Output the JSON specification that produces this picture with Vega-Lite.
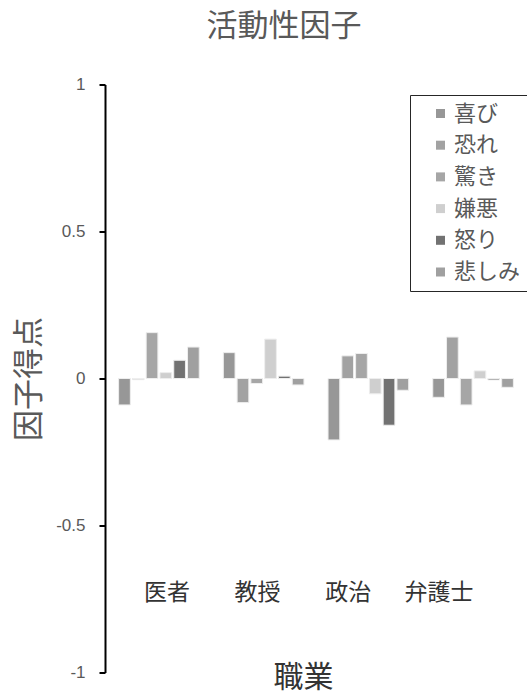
{
  "$schema": "https://vega.github.io/schema/vega-lite/v6.json",
  "width": 422,
  "height": 588,
  "autosize": {"type": "none"},
  "padding": {"left": 105, "top": 84.5, "right": 0, "bottom": 22.5},
  "background": "white",
  "config": {"view": {"stroke": null}, "font": "Noto Sans CJK JP"},
  "title": {"text": "活動性因子", "fontSize": 31, "fontWeight": "normal", "color": "#595959", "anchor": "middle", "dx": -32, "offset": 33, "font": "Noto Sans CJK JP"},
  "layer": [
    {
      "data": {"values": [
        {"職業": "医者", "感情": "喜び", "得点": -0.090},
        {"職業": "医者", "感情": "恐れ", "得点": -0.004},
        {"職業": "医者", "感情": "驚き", "得点": 0.156},
        {"職業": "医者", "感情": "嫌悪", "得点": 0.020},
        {"職業": "医者", "感情": "怒り", "得点": 0.062},
        {"職業": "医者", "感情": "悲しみ", "得点": 0.107},
        {"職業": "教授", "感情": "喜び", "得点": 0.088},
        {"職業": "教授", "感情": "恐れ", "得点": -0.082},
        {"職業": "教授", "感情": "驚き", "得点": -0.017},
        {"職業": "教授", "感情": "嫌悪", "得点": 0.134},
        {"職業": "教授", "感情": "怒り", "得点": 0.008},
        {"職業": "教授", "感情": "悲しみ", "得点": -0.022},
        {"職業": "政治", "感情": "喜び", "得点": -0.209},
        {"職業": "政治", "感情": "恐れ", "得点": 0.077},
        {"職業": "政治", "感情": "驚き", "得点": 0.085},
        {"職業": "政治", "感情": "嫌悪", "得点": -0.052},
        {"職業": "政治", "感情": "怒り", "得点": -0.159},
        {"職業": "政治", "感情": "悲しみ", "得点": -0.040},
        {"職業": "弁護士", "感情": "喜び", "得点": -0.064},
        {"職業": "弁護士", "感情": "恐れ", "得点": 0.141},
        {"職業": "弁護士", "感情": "驚き", "得点": -0.090},
        {"職業": "弁護士", "感情": "嫌悪", "得点": 0.026},
        {"職業": "弁護士", "感情": "怒り", "得点": -0.005},
        {"職業": "弁護士", "感情": "悲しみ", "得点": -0.030}
      ]},
      "mark": {"type": "bar", "stroke": "#eeeeee", "strokeWidth": 1},
      "encoding": {
        "x": {"field": "職業", "type": "nominal", "sort": ["医者", "教授", "政治", "弁護士"], "scale": {"paddingInner": 0.23, "paddingOuter": 0.13}, "axis": null},
        "xOffset": {"field": "感情", "type": "nominal", "sort": ["喜び", "恐れ", "驚き", "嫌悪", "怒り", "悲しみ"], "scale": {"paddingInner": 0.15, "paddingOuter": 0}},
        "y": {
          "field": "得点", "type": "quantitative",
          "scale": {"domain": [-1, 1], "nice": false, "zero": false},
          "axis": {
            "values": [-1, -0.5, 0, 0.5, 1],
            "labelExpr": "'' + datum.value",
            "grid": false,
            "domainColor": "#000000", "domainWidth": 2,
            "tickColor": "#000000", "tickWidth": 2, "tickSize": 6,
            "labelPadding": 14, "labelColor": "#595959", "labelFontSize": 17, "labelFont": "Liberation Sans",
            "title": "因子得点", "titleFontSize": 31, "titleFontWeight": "normal", "titleColor": "#595959", "titleFont": "Noto Sans CJK JP",
            "titleX": -76, "titleY": 294, "titleBaseline": "middle", "titleAlign": "center", "titleAngle": 270
          }
        },
        "color": {
          "field": "感情", "type": "nominal",
          "sort": ["喜び", "恐れ", "驚き", "嫌悪", "怒り", "悲しみ"],
          "scale": {"domain": ["喜び", "恐れ", "驚き", "嫌悪", "怒り", "悲しみ"], "range": ["#979797", "#a2a2a2", "#a6a6a6", "#cfcfcf", "#727272", "#a0a0a0"]},
          "legend": {
            "orient": "none", "legendX": 305, "legendY": 10.5, "title": null,
            "strokeColor": "#262626", "fillColor": "white", "padding": 7.5,
            "symbolType": "square", "symbolSize": 81, "symbolStrokeWidth": 0, "symbolOffset": 12,
            "labelOffset": 2.5, "labelFontSize": 22, "labelColor": "#595959", "labelFont": "Noto Sans CJK JP",
            "rowPadding": 9.7
          }
        }
      }
    },
    {
      "data": {"values": [{"職業": "医者"}, {"職業": "教授"}, {"職業": "政治"}, {"職業": "弁護士"}]},
      "mark": {"type": "text", "fontSize": 23, "color": "#333333", "font": "Noto Sans CJK JP", "baseline": "middle"},
      "encoding": {
        "x": {
          "field": "職業", "type": "nominal", "sort": ["医者", "教授", "政治", "弁護士"],
          "scale": {"type": "point", "padding": 0.826, "align": 0.413},
          "axis": {"labels": false, "ticks": false, "domain": false, "grid": false,
                   "title": "職業", "titleFontSize": 30, "titleFontWeight": "normal", "titleColor": "#333333", "titleFont": "Noto Sans CJK JP",
                   "titleX": 198, "titleY": 4.5, "titleBaseline": "middle", "titleAlign": "center"}
        },
        "y": {"datum": -0.73, "axis": null},
        "text": {"field": "職業"}
      }
    }
  ],
  "resolve": {"scale": {"x": "independent"}, "axis": {"y": "independent"}}
}
